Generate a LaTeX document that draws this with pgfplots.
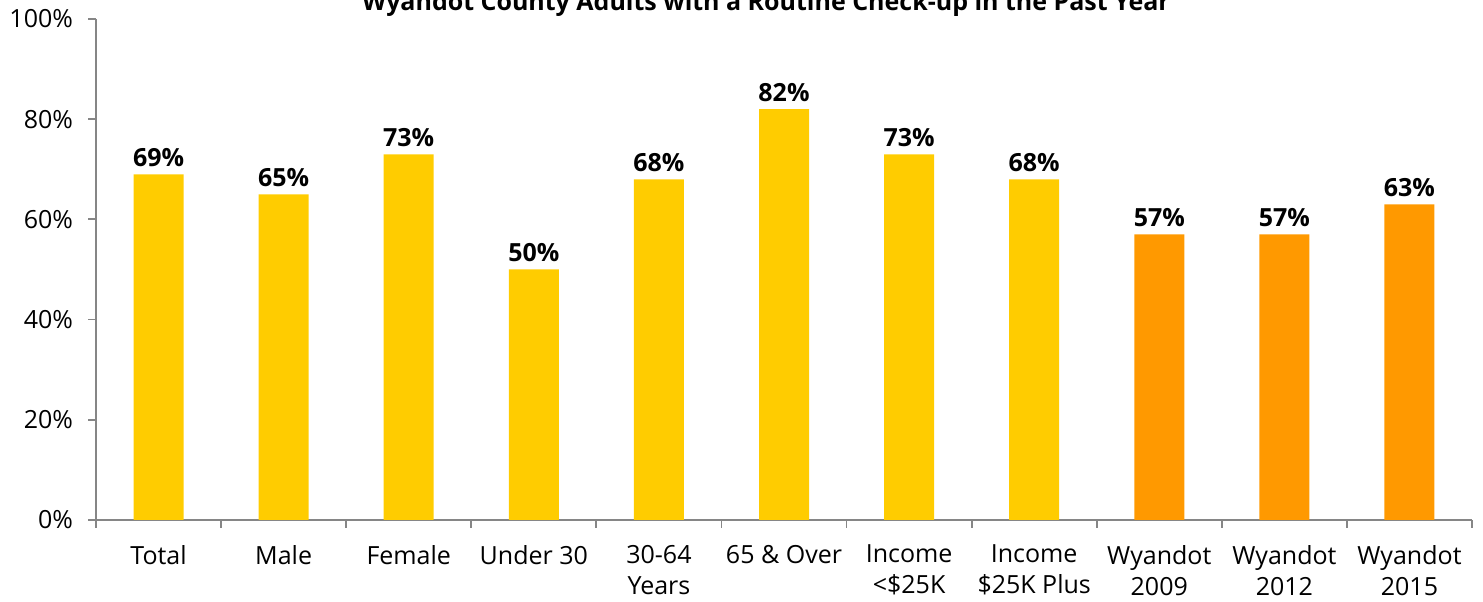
\documentclass[border=0pt]{standalone}
\usepackage{fontspec}
\setmainfont{Open Sans}
\usepackage{pgfplots}
\pgfplotsset{compat=1.18}
\definecolor{barY}{HTML}{FFCC00}
\definecolor{barO}{HTML}{FF9900}
\definecolor{axgray}{HTML}{868686}
\begin{document}
\begin{tikzpicture}[x=0.5pt,y=0.5pt]
\begin{axis}[
    name=ax,
    scale only axis,
    width=688pt, height=250.5pt,
    xmin=-0.5, xmax=10.5,
    ymin=0, ymax=100,
    /pgf/number format/assume math mode=true,
    axis x line*=bottom, axis y line*=left,
    axis line style={axgray, line width=0.9pt, -},
    ytick={0,20,...,100},
    yticklabel={\pgfmathprintnumber{\tick}\%},
    yticklabel style={font=\fontsize{12.5}{15}\selectfont, xshift=-4pt},
    ytick style={axgray, line width=0.9pt},
    tick align=outside,
    major tick length=4pt,
    xtick={0,...,10},
    x tick style={draw=none},
    xticklabels={Total, Male, Female, Under 30, 30-64\\Years, 65 \& Over, Income\\<\$25K, Income\\\$25K Plus, Wyandot\\2009, Wyandot\\2012, Wyandot\\2015},
    xticklabel style={font=\fontsize{12.5}{15.5}\selectfont, align=center, anchor=north, yshift=-5pt},
    extra x ticks={-0.5,0.5,...,10.5},
    extra x tick labels={},
    extra x tick style={x tick style={axgray, line width=0.9pt, draw=axgray}, major tick length=4pt},
    ybar, bar width=25pt, bar shift=0pt,
    nodes near coords={\pgfmathprintnumber[fixed,precision=0]{\pgfplotspointmeta}\%},
    nodes near coords style={font=\fontsize{12.5}{15}\selectfont\bfseries, inner sep=1pt, anchor=south, yshift=2.5pt},
    clip=false,
]
\addplot[fill=barY, draw=none] coordinates {
    (0,69) (1,65) (2,73) (3,50) (4,68) (5,82) (6,73) (7,68)
};
\addplot[fill=barO, draw=none] coordinates {
    (8,57) (9,57) (10,63)
};
\end{axis}
\node[anchor=base, font=\fontsize{12.5}{15}\selectfont\bfseries] at ([xshift=-9pt, yshift=4pt]ax.north) {Wyandot County Adults with a Routine Check-up in the Past Year};
\pgfresetboundingbox
\path[use as bounding box] ([xshift=-48pt, yshift=-41pt]ax.south west) rectangle ([xshift=5.5pt, yshift=9.5pt]ax.north east);
\end{tikzpicture}
\end{document}
